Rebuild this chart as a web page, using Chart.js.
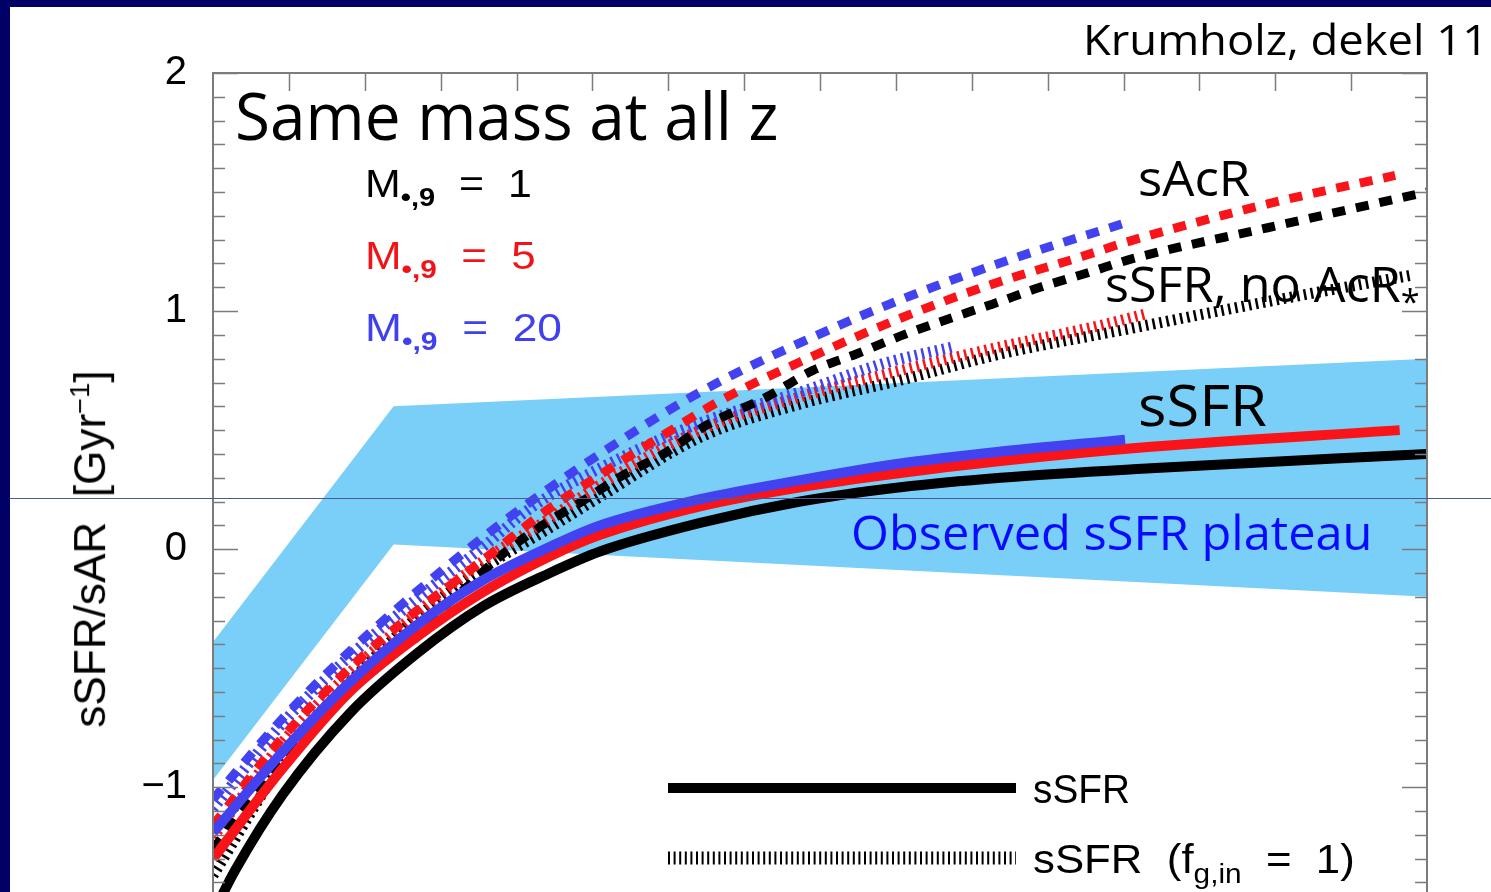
<!DOCTYPE html>
<html>
<head>
<meta charset="utf-8">
<script src="https://cdn.jsdelivr.net/npm/chart.js@4.4.1/dist/chart.umd.min.js"></script>
<style>
  body { margin: 0; background: #000066; width: 1491px; height: 892px; overflow: hidden; position: relative; }
  #page { position: absolute; left: 10px; top: 7px; width: 1481px; height: 885px; background: #fff; }
  #chart { position: absolute; left: 0; top: 0; }
  .t { position: absolute; white-space: pre; line-height: 1; transform-origin: 0 0; }
  .comic { font-family: "Comic Sans MS", "Open Sans", sans-serif; }
  .helv { font-family: "Liberation Sans", Arial, sans-serif; }
  .t sub { font-size: 0.68em; vertical-align: -0.35em; line-height: 0; }
  .t sup { font-size: 0.62em; vertical-align: 0.6em; line-height: 0; }
  .t .dot { font-weight: bold; }
  #slideLine { position: absolute; left: 10px; top: 498px; width: 1481px; height: 1px; background: rgb(78, 88, 150); }
</style>
</head>
<body>
<div id="page"></div>
<canvas id="chart" width="1491" height="892"></canvas>

<div class="t comic" data-x0="1083" data-x1="1488" data-base="55" style="font-size:42px;">Krumholz, dekel 11</div>
<div class="t comic" data-x0="235" data-x1="778" data-base="140" style="font-size:66px;">Same mass at all z</div>
<div class="t helv" data-x0="365" data-x1="532" data-base="197" style="font-size:38px;color:#000;">M<sub class="dot">•,9</sub>  =  1</div>
<div class="t helv" data-x0="365" data-x1="536" data-base="269" style="font-size:38px;color:#f01418;">M<sub class="dot">•,9</sub>  =  5</div>
<div class="t helv" data-x0="365" data-x1="562" data-base="341" style="font-size:38px;color:#4040ee;">M<sub class="dot">•,9</sub>  =  20</div>
<div class="t comic" data-x0="1138" data-x1="1250" data-base="196" style="font-size:50px;">sAcR</div>
<div class="t comic" data-x0="1105" data-x1="1420" data-base="302" style="font-size:50px;">sSFR, no AcR<sub>*</sub></div>
<div class="t comic" data-x0="1138" data-x1="1267" data-base="426" style="font-size:56px;">sSFR</div>
<div class="t comic" data-x0="851" data-x1="1372" data-base="550" style="font-size:48px;color:#0a0aff;">Observed sSFR plateau</div>
<div class="t helv" data-x0="1033" data-x1="1130" data-base="803" style="font-size:40px;">sSFR</div>
<div class="t helv" data-x0="1033" data-x1="1355" data-base="873" style="font-size:40px;">sSFR  (f<sub>g,in</sub>  =  1)</div>
<div class="t helv" id="yTitle" style="font-size:44px;">sSFR/sAR  [Gyr<sup>−1</sup>]</div>
<div id="slideLine"></div>

<script>
// redshift grid and curves
const zBand = [0, 1.19, 8];
const bandUpper = [-0.39, 0.60, 0.80];
const bandLower = [-0.97, 0.02, -0.20];

// sSFR (solid)
const zSsfrM1 = [0, 0.145, 0.46, 0.90, 1.34, 1.78, 2.22, 2.55, 3.21, 3.87, 4.53, 5.19, 6.18, 8.0];
const ssfrM1 = [-1.53, -1.35, -1.03, -0.69, -0.44, -0.24, -0.10, -0.01, 0.11, 0.20, 0.26, 0.30, 0.34, 0.40];
const zSsfrM5 = [0, 0.46, 0.90, 1.34, 1.78, 2.22, 2.55, 3.21, 3.87, 4.53, 5.19, 6.18, 7.82];
const ssfrM5 = [-1.30, -0.92, -0.60, -0.37, -0.18, -0.03, 0.06, 0.18, 0.26, 0.32, 0.37, 0.43, 0.50];
const zSsfrM20 = [0, 0.46, 0.90, 1.34, 1.78, 2.22, 2.55, 3.21, 3.87, 4.53, 5.19, 6.01];
const ssfrM20 = [-1.19, -0.85, -0.56, -0.32, -0.13, 0.01, 0.10, 0.21, 0.29, 0.36, 0.41, 0.46];

// sAcR (dashed)
const zAcrM1 = [0, 0.46, 0.90, 1.34, 1.67, 1.91, 2.17, 2.43, 2.70, 2.97, 3.25, 3.65, 3.95, 4.24, 4.55, 4.86, 5.14, 5.45, 5.76, 6.06, 6.95, 8.0];
const acrM1 = [-1.26, -0.88, -0.59, -0.34, -0.16, -0.02, 0.10, 0.20, 0.31, 0.40, 0.52, 0.64, 0.75, 0.82, 0.90, 0.97, 1.03, 1.10, 1.16, 1.22, 1.35, 1.50];
const zAcrM5 = [0, 0.46, 0.90, 1.34, 1.67, 1.91, 2.17, 2.57, 2.97, 3.36, 3.95, 4.53, 5.12, 5.73, 6.02, 6.95, 7.79];
const acrM5 = [-1.16, -0.79, -0.50, -0.26, -0.10, 0.02, 0.15, 0.32, 0.48, 0.63, 0.81, 0.97, 1.11, 1.23, 1.29, 1.45, 1.57];
const zAcrM20 = [0, 0.46, 0.90, 1.34, 1.78, 2.16, 2.55, 3.21, 4.09, 4.66, 5.27, 6.01];
const acrM20 = [-1.05, -0.71, -0.43, -0.18, 0.05, 0.23, 0.40, 0.66, 0.93, 1.08, 1.22, 1.37];

// sSFR with f_g,in = 1 (dotted)
const zFgM1 = [0, 0.57, 0.90, 1.34, 1.78, 2.22, 2.55, 3.21, 3.87, 4.53, 5.19, 6.07, 6.95, 7.89];
const fgM1 = [-1.37, -0.79, -0.56, -0.29, -0.08, 0.09, 0.22, 0.47, 0.61, 0.71, 0.82, 0.93, 1.04, 1.15];
const zFgM5 = [0, 0.46, 0.90, 1.34, 1.78, 2.22, 2.55, 3.21, 3.87, 4.53, 5.19, 5.85, 6.16];
const fgM5 = [-1.21, -0.81, -0.52, -0.27, -0.05, 0.13, 0.27, 0.50, 0.64, 0.75, 0.85, 0.94, 0.99];
const zFgM20 = [0, 0.46, 0.90, 1.34, 1.78, 2.11, 2.55, 3.21, 3.87, 4.42, 4.88];
const fgM20 = [-1.09, -0.73, -0.45, -0.21, 0.01, 0.18, 0.34, 0.53, 0.66, 0.78, 0.85];

const BLACK = "#000000";
const RED = "#f81418";
const BLUE = "#4242f0";

function pts(zs, ys) {
  return zs.map((z, i) => ({ x: z, y: ys[i] }));
}

function curve(zs, ys, color, kind, order) {
  const ds = {
    data: pts(zs, ys),
    borderColor: color,
    pointRadius: 0,
    fill: false,
    cubicInterpolationMode: "monotone",
    borderCapStyle: "butt",
    order: order,
  };
  if (kind === "solid") ds.borderWidth = 10;
  if (kind === "dashed") { ds.borderWidth = 9; ds.borderDash = [13, 11]; }
  if (kind === "dotted") { ds.borderWidth = 11; ds.borderDash = [2.5, 4.5]; }
  return ds;
}

// axis frame, inward ticks and the little line legend
const frameTicks = {
  id: "frameTicks",
  afterDatasetsDraw(chart) {
    const { ctx, chartArea: a, scales: { x, y } } = chart;
    ctx.save();
    ctx.strokeStyle = "#7c7c7c";
    ctx.lineWidth = 2;
    ctx.beginPath();
    ctx.moveTo(a.left, a.bottom);
    ctx.lineTo(a.left, a.top);
    ctx.lineTo(a.right, a.top);
    ctx.lineTo(a.right, a.bottom);
    ctx.stroke();

    ctx.lineWidth = 1.5;
    ctx.beginPath();
    for (let k = -14; k <= 20; k++) {
      const py = Math.round(y.getPixelForValue(k / 10)) + 0.5;
      if (py < a.top || py > a.bottom) continue;
      const len = k % 10 === 0 ? 25 : 12;
      ctx.moveTo(a.left, py); ctx.lineTo(a.left + len, py);
      ctx.moveTo(a.right, py); ctx.lineTo(a.right - len, py);
    }
    for (let k = 1; k < 16; k++) {
      const px = Math.round(x.getPixelForValue(k / 2)) + 0.5;
      ctx.moveTo(px, a.top); ctx.lineTo(px, a.top + 18);
    }
    ctx.stroke();

    // legend samples
    ctx.strokeStyle = "#000";
    ctx.lineCap = "butt";
    ctx.lineWidth = 10;
    ctx.beginPath();
    ctx.moveTo(668, 788); ctx.lineTo(1016, 788);
    ctx.stroke();
    ctx.lineWidth = 13;
    ctx.setLineDash([2, 3.6]);
    ctx.beginPath();
    ctx.moveTo(668, 858); ctx.lineTo(1016, 858);
    ctx.stroke();
    ctx.restore();
  },
};

new Chart(document.getElementById("chart"), {
  type: "line",
  data: {
    datasets: [
      curve(zSsfrM20, ssfrM20, BLUE, "solid", 1),
      curve(zSsfrM5, ssfrM5, RED, "solid", 2),
      curve(zSsfrM1, ssfrM1, BLACK, "solid", 3),
      curve(zAcrM20, acrM20, BLUE, "dashed", 4),
      curve(zAcrM5, acrM5, RED, "dashed", 5),
      curve(zAcrM1, acrM1, BLACK, "dashed", 6),
      curve(zFgM20, fgM20, BLUE, "dotted", 7),
      curve(zFgM5, fgM5, RED, "dotted", 8),
      curve(zFgM1, fgM1, BLACK, "dotted", 9),
      {
        data: pts(zBand, bandUpper),
        borderWidth: 0,
        pointRadius: 0,
        tension: 0,
        backgroundColor: "#7acff8",
        fill: "+1",
        order: 20,
      },
      {
        data: pts(zBand, bandLower),
        borderWidth: 0,
        pointRadius: 0,
        tension: 0,
        fill: false,
        order: 21,
      },
    ],
  },
  options: {
    responsive: false,
    animation: false,
    layout: { padding: { top: 73, right: 64, bottom: 0, left: 0 } },
    plugins: { legend: { display: false }, tooltip: { enabled: false } },
    scales: {
      x: { type: "linear", min: 0, max: 8, display: false },
      y: {
        min: -1.44,
        max: 2,
        afterFit(s) {
          s.width = 213;
          s.paddingTop = 0;
          s.paddingBottom = 0;
        },
        grid: { display: false },
        border: { display: false },
        ticks: {
          stepSize: 1,
          includeBounds: false,
          padding: 18,
          color: "#000",
          font: { family: "Liberation Sans", size: 40 },
          callback: (v) => (Number.isInteger(v) ? (v < 0 ? "\u2212" + Math.abs(v) : String(v)) : ""),
        },
      },
    },
  },
  plugins: [frameTicks],
});

// place text by baseline and stretch to the measured width
function baselineOf(el) {
  const probe = document.createElement("span");
  probe.style.cssText = "display:inline-block;width:0;height:0;vertical-align:baseline;";
  el.appendChild(probe);
  const b = probe.offsetTop;
  el.removeChild(probe);
  return b;
}

document.querySelectorAll(".t[data-x0]").forEach((el) => {
  const x0 = Number(el.dataset.x0);
  const x1 = Number(el.dataset.x1);
  const base = Number(el.dataset.base);
  el.style.left = x0 + "px";
  el.style.top = base - baselineOf(el) + "px";
  const s = (x1 - x0) / el.offsetWidth;
  el.style.transform = "scaleX(" + s.toFixed(3) + ")";
});

const yt = document.getElementById("yTitle");
const w = yt.offsetWidth;
const h = yt.offsetHeight;
const sx = 357 / w;
yt.style.left = 90 - w / 2 + "px";
yt.style.top = 549 - h / 2 + "px";
yt.style.transformOrigin = "50% 50%";
yt.style.transform = "rotate(-90deg) scaleX(" + sx.toFixed(3) + ")";
</script>
</body>
</html>
